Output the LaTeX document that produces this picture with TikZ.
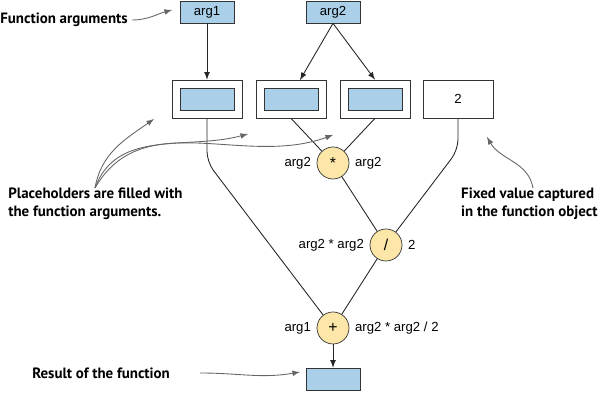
\documentclass[tikz,border=0pt]{standalone}
\usepackage{fontspec}
\setmainfont{Liberation Sans}
\newfontfamily\notefont{PT Sans}
\definecolor{argblue}{HTML}{A9D0E8}
\definecolor{opyellow}{HTML}{FCE7A8}
\begin{document}
\begin{tikzpicture}[x=0.02cm,y=-0.02cm,
  argbox/.style={draw=black!80,fill=argblue,minimum width=54*0.02cm,minimum height=22*0.02cm,inner sep=0,font=\fontsize{7.5}{8}\selectfont},
  outer/.style={draw=black!80,fill=white,minimum width=70*0.02cm,minimum height=38*0.02cm,inner sep=0,font=\fontsize{7.5}{8}\selectfont},
  op/.style={circle,draw=black!80,fill=opyellow,minimum size=32*0.02cm,inner sep=0,font=\fontsize{9}{10}\selectfont},
  lbl/.style={font=\fontsize{7.5}{8}\selectfont,inner sep=1pt},
  note/.style={font=\notefont\bfseries\fontsize{8.5}{10}\selectfont,align=left,inner sep=0},
  conn/.style={draw=black!85,line width=0.5pt,rounded corners=6pt},
  arr/.style={conn,-latex},
  callout/.style={draw=black!60,line width=0.5pt,-latex}]
\useasboundingbox (0,0) rectangle (600,408);
\node[argbox] (a1) at (207,12) {arg1};
\node[argbox] (a2) at (333,12) {arg2};
\node[outer] (b1) at (207,99) {};
\node[outer] (b2) at (291,99) {};
\node[outer] (b3) at (375,99) {};
\node[outer] (b4) at (458,99) {2};
\node[argbox] (i1) at (207,99) {};
\node[argbox] (i2) at (291,99) {};
\node[argbox] (i3) at (375,99) {};
\node[op] (mul) at (333,163) {*};
\node[op] (div) at (386,245) {/};
\node[op] (add) at (333,328) {+};
\node[argbox] (res) at (333,379) {};
\node[lbl,anchor=east] (m1) at (313,163) {arg2};
\node[lbl,anchor=west] (m2) at (353,163) {arg2};
\node[lbl,anchor=east] (d1) at (366,245) {arg2 * arg2};
\node[lbl,anchor=west] (d2) at (406,245) {2};
\node[lbl,anchor=east] (p1) at (313,328) {arg1};
\node[lbl,anchor=west] (p2) at (353,328) {arg2 * arg2 / 2};
\coordinate (k1) at (207,162);
\coordinate (k4) at (458,150);
\coordinate (t2) at (300,80);
\draw[arr] (a1) -- (b1);
\draw[arr] (a2.south) -- (t2);
\draw[arr] (a2.south) -- (b3.north);
\draw[conn] (b1.south) -- (k1) -- (add);
\draw[conn] (b2.south) -- (mul);
\draw[conn] (b3.south) -- (mul);
\draw[conn] (b4.south) -- (k4) -- (div);
\draw[conn] (mul) -- (div);
\draw[conn] (div) -- (add);
\draw[arr] (add) -- (res);
\node[note,anchor=west] (n1) at (0,20) {Function arguments};
\node[note,anchor=west] (n2) at (8,204) {Placeholders are filled with\\the function arguments.};
\node[note,anchor=east] (n3) at (598,204) {Fixed value captured\\in the function object};
\node[note,anchor=west] (n4) at (32,373) {Result of the function};
\coordinate (c1) at (172,10);
\coordinate (c2) at (154,119);
\coordinate (c3) at (248,134);
\coordinate (c4) at (333,135);
\coordinate (c5) at (487,137);
\coordinate (c6) at (300,372);
\coordinate (s2) at (95,188);
\draw[callout] (132,20) to[out=0,in=195] (c1);
\draw[callout] (s2) to[out=80,in=215] (c2);
\draw[callout] (s2) to[out=70,in=195] (c3);
\draw[callout] (s2) to[out=60,in=200] (c4);
\draw[callout] (533,188) to[out=100,in=-60] (c5);
\draw[callout] (200,373) to[out=0,in=190] (c6);
\end{tikzpicture}
\end{document}
